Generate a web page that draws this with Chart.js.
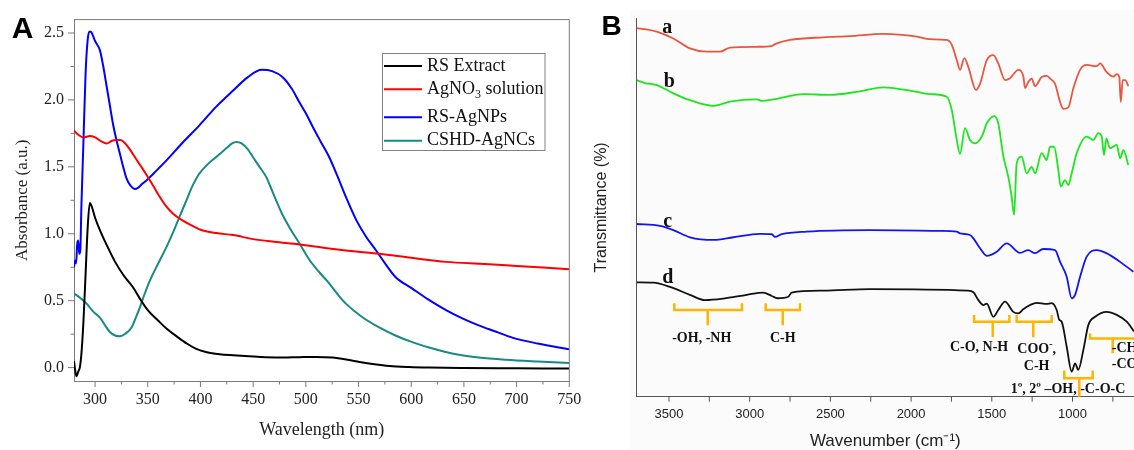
<!DOCTYPE html>
<html><head><meta charset="utf-8">
<script src="https://cdn.jsdelivr.net/npm/chart.js@4.4.1/dist/chart.umd.min.js"></script>
<style>
html,body{margin:0;padding:0;background:#fff;overflow:hidden;}
#wrap{position:relative;width:1134px;height:450px;}
#ca{position:absolute;left:0;top:0;}
#cb{position:absolute;left:590px;top:0;}
</style></head><body>
<div id="wrap"><canvas id="ca" width="590" height="450"></canvas><canvas id="cb" width="544" height="450"></canvas></div>
<script>
// ---------- Panel A : UV-Vis ----------
const rsWl = [280, 281.5, 282.5, 284, 285.5, 287, 289, 291, 293, 295, 297, 300, 305, 312, 319, 327, 336, 343, 350, 360, 368, 378, 387, 396, 406, 418, 431, 446, 462, 478, 494, 510, 525, 540, 551, 565, 579, 598, 617, 650, 700, 750];
const rsAbs = [0.05, -0.04, -0.065, -0.03, 0.0, 0.1, 0.35, 0.7, 1.05, 1.23, 1.2, 1.12, 1.02, 0.9, 0.79, 0.69, 0.6, 0.51, 0.43, 0.35, 0.29, 0.23, 0.18, 0.14, 0.115, 0.1, 0.092, 0.085, 0.078, 0.075, 0.078, 0.08, 0.075, 0.058, 0.042, 0.025, 0.012, 0.004, 0.0, -0.003, -0.005, -0.007];

const agWl = [280, 284, 289, 295, 300, 306, 311, 316, 320, 324, 328, 333, 338, 343, 348, 355, 361, 367, 374, 383, 392, 400, 415, 431, 450, 470, 494, 532, 570, 600, 633, 670, 700, 750];
const agAbs = [1.77, 1.74, 1.72, 1.73, 1.72, 1.69, 1.675, 1.695, 1.70, 1.70, 1.68, 1.63, 1.57, 1.51, 1.45, 1.36, 1.28, 1.21, 1.15, 1.10, 1.06, 1.03, 1.005, 0.99, 0.96, 0.94, 0.92, 0.88, 0.85, 0.82, 0.79, 0.775, 0.76, 0.735];

const npWl = [280, 281, 282, 283, 284, 285, 286, 287, 289, 291, 293, 294.5, 296, 297.5, 300, 304.6, 308, 311, 314, 317, 320, 323.5, 327, 330, 334, 337.5, 341, 345, 349, 358, 368, 383, 399, 415, 431, 445, 458, 468, 478, 487, 494, 500, 506.5, 514, 522, 530, 538, 548, 557, 566.5, 575, 585, 601, 616, 633, 648, 664, 680, 696, 720, 750];
const npAbs = [0.75, 0.80, 0.78, 0.92, 0.95, 0.85, 0.88, 1.2, 1.7, 2.2, 2.45, 2.51, 2.51, 2.49, 2.44, 2.37, 2.24, 2.10, 1.96, 1.82, 1.71, 1.60, 1.49, 1.41, 1.355, 1.335, 1.345, 1.375, 1.40, 1.47, 1.55, 1.68, 1.81, 1.95, 2.07, 2.17, 2.225, 2.215, 2.17, 2.08, 1.98, 1.90, 1.80, 1.69, 1.575, 1.43, 1.275, 1.10, 0.98, 0.877, 0.78, 0.677, 0.59, 0.51, 0.43, 0.37, 0.316, 0.27, 0.224, 0.18, 0.137];

const csWl = [280, 286, 292, 298, 304.6, 310, 314, 319, 323.5, 329, 334.6, 338.5, 342.5, 347, 352, 360, 367.7, 374, 380, 386.7, 392, 399, 407, 415, 424, 430, 434, 439, 445, 449.7, 456, 462.4, 467, 471.8, 478, 485, 494, 503, 512, 522.3, 530, 538, 553, 569.6, 585, 601, 617, 632.7, 648, 664, 690, 720, 750];
const csAbs = [0.555, 0.52, 0.478, 0.42, 0.374, 0.31, 0.266, 0.24, 0.234, 0.255, 0.30, 0.37, 0.45, 0.55, 0.65, 0.78, 0.90, 1.01, 1.125, 1.25, 1.35, 1.45, 1.52, 1.574, 1.635, 1.675, 1.686, 1.675, 1.63, 1.574, 1.50, 1.425, 1.34, 1.25, 1.14, 1.04, 0.927, 0.81, 0.72, 0.628, 0.55, 0.478, 0.38, 0.30, 0.24, 0.19, 0.15, 0.117, 0.093, 0.075, 0.058, 0.045, 0.034];

const aXTicks = [300, 350, 400, 450, 500, 550, 600, 650, 700, 750];
const aXMinor = [325, 375, 425, 475, 525, 575, 625, 675, 725];
const aYTicks = [0, 0.5, 1.0, 1.5, 2.0, 2.5];
const aYMinor = [0.25, 0.75, 1.25, 1.75, 2.25];

// ---------- Panel B : FTIR (offset transmittance, arbitrary units) ----------
const aWn = [3700, 3640, 3576, 3473, 3370, 3266, 3184, 3122, 2956, 2863, 2843, 2750, 2544, 2378, 2172, 1965, 1883, 1779, 1748, 1717, 1697, 1670, 1645, 1598, 1573, 1531, 1490, 1460, 1418, 1387, 1336, 1305, 1294, 1274, 1253, 1232, 1191, 1160, 1139, 1108, 1077, 1057, 1026, 995, 953, 912, 850, 829, 790, 747, 726, 710, 701, 689, 674, 654];
const aT = [97.3, 97.0, 96.4, 94.6, 92.0, 91.1, 91.1, 92.2, 92.4, 92.6, 93.1, 94.2, 94.9, 95.2, 95.8, 95.1, 94.4, 94.2, 92.9, 88.9, 86.3, 89.4, 87.0, 81.0, 82.6, 88.9, 90.2, 88.0, 83.6, 84.1, 86.3, 84.7, 81.5, 83.1, 84.0, 82.0, 84.4, 84.7, 84.0, 82.6, 77.8, 76.0, 76.4, 81.4, 86.3, 87.6, 87.3, 88.0, 85.8, 84.5, 85.2, 84.4, 77.8, 83.6, 83.6, 82.0];

const bWn = [3700, 3650, 3576, 3473, 3370, 3225, 3122, 2956, 2925, 2854, 2668, 2502, 2337, 2172, 1965, 1883, 1779, 1748, 1717, 1697, 1666, 1635, 1604, 1562, 1531, 1484, 1460, 1428, 1398, 1377, 1362, 1346, 1315, 1284, 1253, 1232, 1191, 1160, 1139, 1114, 1088, 1073, 1046, 1026, 1005, 974, 912, 871, 840, 819, 805, 790, 768, 726, 705, 685, 654];
const bT = [83.6, 82.8, 82.3, 80.1, 78.3, 76.8, 77.9, 78.5, 78.1, 78.5, 79.9, 79.7, 80.5, 81.7, 80.5, 79.9, 79.2, 75.7, 67.8, 64.1, 70.9, 67.8, 66.9, 68.7, 72.2, 74.1, 72.2, 63.4, 58.1, 52.8, 48.0, 61.6, 63.4, 59.0, 60.7, 59.0, 64.3, 62.5, 66.0, 66.0, 59.9, 55.5, 57.2, 55.9, 59.0, 64.3, 68.7, 67.8, 69.6, 68.7, 63.8, 68.2, 65.6, 66.5, 63.0, 65.1, 61.2];

const cWn = [3700, 3556, 3473, 3370, 3225, 3101, 2936, 2863, 2843, 2802, 2647, 2254, 1821, 1717, 1697, 1635, 1614, 1573, 1531, 1469, 1408, 1325, 1274, 1232, 1181, 1108, 1077, 1036, 1005, 984, 953, 912, 850, 790, 705, 623];
const cT = [45.6, 45.1, 44.0, 42.1, 41.4, 42.1, 43.0, 42.9, 42.2, 42.9, 43.6, 44.0, 43.8, 43.6, 43.1, 42.7, 41.8, 39.2, 37.2, 38.3, 40.5, 38.0, 38.7, 37.9, 39.0, 38.7, 35.6, 31.7, 26.0, 26.9, 31.7, 37.0, 38.7, 37.9, 35.6, 33.0];

const dWn = [3700, 3597, 3494, 3370, 3277, 3163, 3018, 2916, 2863, 2829, 2761, 2740, 2544, 2254, 1650, 1614, 1583, 1552, 1531, 1490, 1460, 1418, 1367, 1336, 1305, 1263, 1222, 1160, 1129, 1098, 1082, 1067, 1036, 1005, 984, 964, 933, 902, 860, 788, 726, 664, 619];
const dT = [30.2, 30.1, 29.0, 26.9, 25.5, 25.9, 26.9, 27.5, 26.6, 26.0, 26.4, 27.5, 28.0, 28.4, 28.0, 27.6, 25.5, 24.2, 24.6, 21.1, 22.9, 25.1, 22.4, 22.0, 23.1, 24.2, 24.8, 24.5, 24.7, 22.9, 20.3, 19.8, 13.2, 6.6, 8.8, 7.1, 12.3, 18.9, 21.1, 22.4, 21.6, 19.8, 17.2];

const bXTicks = [3500, 3250, 3000, 2750, 2500, 2250, 2000, 1750, 1500, 1250, 1000, 750];
const bXLabels = [3500, 3000, 2500, 2000, 1500, 1000];

// ---------- helpers ----------
const SERIF = "'Liberation Serif','Times New Roman',serif";
const SANS = "'Liberation Sans',Arial,sans-serif";
function pts(xs, ys){ return xs.map((x,i)=>({x:x, y:ys[i]})).sort((p,q)=>p.x-q.x); }

// ---------- Panel A plugins ----------
const decoA = {
  id:'decoA',
  afterDraw(chart){
    const {ctx, chartArea:ca, scales:{x,y}} = chart;
    ctx.save();
    ctx.strokeStyle='#7a7a7a'; ctx.lineWidth=1;
    ctx.beginPath();
    ctx.moveTo(ca.left, ca.top); ctx.lineTo(ca.right, ca.top);
    ctx.moveTo(ca.right, ca.top); ctx.lineTo(ca.right, ca.bottom);
    aXTicks.forEach(v=>{const p=x.getPixelForValue(v); ctx.moveTo(p,ca.bottom); ctx.lineTo(p,ca.bottom+6);});
    aXMinor.forEach(v=>{const p=x.getPixelForValue(v); ctx.moveTo(p,ca.bottom); ctx.lineTo(p,ca.bottom+3.5);});
    aYTicks.forEach(v=>{const p=y.getPixelForValue(v); ctx.moveTo(ca.left,p); ctx.lineTo(ca.left-6,p);});
    aYMinor.forEach(v=>{const p=y.getPixelForValue(v); ctx.moveTo(ca.left,p); ctx.lineTo(ca.left-3.5,p);});
    ctx.stroke();
    // legend
    const bx=382.5, by=53.5, bw=162.5, bh=97;
    ctx.fillStyle='#fff'; ctx.fillRect(bx,by,bw,bh);
    ctx.strokeStyle='#808080'; ctx.lineWidth=1; ctx.strokeRect(bx,by,bw,bh);
    const rows=[66,89.3,117.3,140.7];
    chart.data.datasets.forEach((ds,i)=>{
      const yy=rows[i];
      ctx.strokeStyle=ds.borderColor; ctx.lineWidth=2;
      ctx.beginPath(); ctx.moveTo(384,yy); ctx.lineTo(422,yy); ctx.stroke();
      ctx.fillStyle='#111'; ctx.textBaseline='middle'; ctx.textAlign='left';
      let xx=427;
      const parts = ds.label.split('₃');
      parts.forEach((p,k)=>{
        ctx.font = '18px '+SERIF;
        ctx.fillText(p, xx, yy); xx += ctx.measureText(p).width;
        if (k < parts.length-1){
          ctx.font = '12px '+SERIF;
          ctx.fillText('3', xx, yy+6); xx += ctx.measureText('3').width;
        }
      });
    });
    // panel label
    ctx.fillStyle='#000'; ctx.font='bold 30px '+SANS; ctx.textAlign='center'; ctx.textBaseline='alphabetic';
    ctx.fillText('A', 22.5, 37.5);
    ctx.restore();
  }
};

new Chart(document.getElementById('ca'), {
  type:'line',
  data:{datasets:[
    {label:'RS Extract', data:pts(rsWl, rsAbs), borderColor:'#000000'},
    {label:'AgNO₃ solution', data:pts(agWl, agAbs), borderColor:'#ff0000'},
    {label:'RS-AgNPs', data:pts(npWl, npAbs), borderColor:'#0000ff'},
    {label:'CSHD-AgNCs', data:pts(csWl, csAbs), borderColor:'#178a85'}
  ]},
  options:{
    responsive:false, animation:false, devicePixelRatio:1,
    layout:{padding:{top:19.5,right:19,left:0,bottom:0}},
    elements:{point:{radius:0}, line:{borderWidth:2, cubicInterpolationMode:'monotone'}},
    plugins:{legend:{display:false}, tooltip:{enabled:false}},
    scales:{
      x:{type:'linear', min:280, max:750,
        afterBuildTicks:s=>{s.ticks = aXTicks.map(v=>({value:v}));},
        grid:{display:false, drawTicks:false, tickLength:0}, border:{display:true,color:'#7a7a7a',width:1},
        ticks:{autoSkip:false, maxRotation:0, padding:8.7, color:'#222', font:{family:SERIF,size:16}},
        title:{display:true, text:'Wavelength (nm)', color:'#222', font:{family:SERIF,size:18}, padding:{top:0,bottom:9.2}},
        afterFit:s=>{s.height=69;}
      },
      y:{type:'linear', min:-0.1, max:2.6,
        afterBuildTicks:s=>{s.ticks = aYTicks.map(v=>({value:v}));},
        grid:{display:false, drawTicks:false, tickLength:0}, border:{display:true,color:'#7a7a7a',width:1},
        ticks:{padding:10, color:'#222', font:{family:SERIF,size:16}, callback:v=>Number(v).toFixed(1)},
        title:{display:true, text:'Absorbance (a.u.)', color:'#222', font:{family:SERIF,size:17}, padding:{top:12.5,bottom:0}},
        afterFit:s=>{s.width=74;}
      }
    }
  },
  plugins:[decoA]
});

// ---------- Panel B plugins ----------
const brackets = [
  {x1:3467,x2:3048,xm:3260,yt:24.7,yh:22.9,ys:18.9},
  {x1:2901,x2:2688,xm:2795,yt:24.7,yh:22.9,ys:18.9},
  {x1:1610,x2:1391,xm:1494,yt:21.6,yh:19.8,ys:15.7},
  {x1:1346,x2:1129,xm:1243,yt:21.6,yh:19.8,ys:15.7},
  {x1:1051,x2:875,xm:958,yt:6.9,yh:4.9,ys:0},
  {x1:891,x2:400,xm:751,yt:16.7,yh:15.4,ys:11.5}
];
const notes = [
  {t:'-OH, -NH', x:3297, y:15.5, a:'center'},
  {t:'C-H', x:2795, y:15.5, a:'center'},
  {t:'C-O, N-H', x:1579, y:13.0, a:'center'},
  {t:'COO', sup:'-', after:',', x:1222, y:12.5, a:'center'},
  {t:'C-H', x:1222, y:7.9, a:'center'},
  {t:'1º, 2º –OH, -C-O-C', x:1028, y:2.0, a:'center'},
  {t:'-CH', x:757, y:12.8, a:'left'},
  {t:'-CO', x:757, y:8.4, a:'left'}
];
const curveTags = [
  {t:'a', x:3510, y:96.0}, {t:'b', x:3498, y:81.7}, {t:'c', x:3508, y:44.9}, {t:'d', x:3508, y:29.9}
];
const decoB = {
  id:'decoB',
  beforeDraw(chart){
    const ctx=chart.ctx; ctx.save(); ctx.fillStyle='#fbfbfb'; ctx.fillRect(40,10,504,440); ctx.restore();
  },
  afterDraw(chart){
    const {ctx, chartArea:ca, scales:{x,y}} = chart;
    ctx.save();
    ctx.strokeStyle='#555'; ctx.lineWidth=1; ctx.beginPath();
    bXTicks.forEach(v=>{const p=x.getPixelForValue(v); ctx.moveTo(p,ca.bottom); ctx.lineTo(p,ca.bottom+5);});
    ctx.stroke();
    // brackets
    ctx.strokeStyle='#ffb400'; ctx.lineWidth=2.5; ctx.lineJoin='miter';
    brackets.forEach(b=>{
      const x1=x.getPixelForValue(b.x1), x2=x.getPixelForValue(b.x2), xm=x.getPixelForValue(b.xm);
      const yt=y.getPixelForValue(b.yt), yh=y.getPixelForValue(b.yh), ys=y.getPixelForValue(b.ys);
      ctx.beginPath();
      ctx.moveTo(x1,yt); ctx.lineTo(x1,yh); ctx.lineTo(x2,yh); ctx.lineTo(x2,yt);
      ctx.moveTo(xm,yh); ctx.lineTo(xm,ys);
      ctx.stroke();
    });
    // labels
    ctx.fillStyle='#111'; ctx.textBaseline='middle';
    notes.forEach(n=>{
      const px=x.getPixelForValue(n.x), py=y.getPixelForValue(n.y);
      ctx.font='bold 14px '+SERIF;
      if (n.sup){
        const w1=ctx.measureText(n.t).width, w3=ctx.measureText(n.after).width;
        ctx.font='bold 10px '+SERIF; const w2=ctx.measureText(n.sup).width;
        let sx = px-(w1+w2+w3)/2;
        ctx.textAlign='left';
        ctx.font='bold 14px '+SERIF; ctx.fillText(n.t,sx,py); sx+=w1;
        ctx.font='bold 10px '+SERIF; ctx.fillText(n.sup,sx,py-5); sx+=w2;
        ctx.font='bold 14px '+SERIF; ctx.fillText(n.after,sx,py);
      } else {
        ctx.textAlign=n.a; ctx.fillText(n.t,px,py);
      }
    });
    ctx.font='bold 20px '+SERIF; ctx.textAlign='center'; ctx.textBaseline='alphabetic';
    curveTags.forEach(c=>{ ctx.fillText(c.t, x.getPixelForValue(c.x), y.getPixelForValue(c.y)); });
    ctx.fillStyle='#000'; ctx.font='bold 28px '+SANS;
    ctx.fillText('B', 21.7, 35);
    ctx.restore();
  }
};

new Chart(document.getElementById('cb'), {
  type:'line',
  data:{datasets:[
    {label:'a', data:pts(aWn,aT), borderColor:'#e8563f'},
    {label:'b', data:pts(bWn,bT), borderColor:'#1ee61e'},
    {label:'c', data:pts(cWn,cT), borderColor:'#1414f0'},
    {label:'d', data:pts(dWn,dT), borderColor:'#111111'}
  ]},
  options:{
    responsive:false, animation:false, devicePixelRatio:1,
    layout:{padding:{top:18,right:0,left:0,bottom:0}},
    elements:{point:{radius:0}, line:{borderWidth:1.8, cubicInterpolationMode:'monotone'}},
    plugins:{legend:{display:false}, tooltip:{enabled:false}},
    scales:{
      x:{type:'linear', reverse:true, min:619, max:3700,
        afterBuildTicks:s=>{s.ticks = bXTicks.map(v=>({value:v}));},
        grid:{display:false, drawTicks:false, tickLength:0}, border:{display:true,color:'#555',width:1},
        ticks:{autoSkip:false, maxRotation:0, padding:9.5, color:'#222', font:{family:SANS,size:13},
          callback:v=> bXLabels.includes(v) ? String(v) : ''},
        title:{display:true, text:'Wavenumber (cm⁻¹)', color:'#222', font:{family:SANS,size:17,lineHeight:1}, padding:{top:0,bottom:0}},
        afterFit:s=>{s.height=53.3;}
      },
      y:{type:'linear', min:0, max:100,
        grid:{display:false, drawTicks:false, tickLength:0}, border:{display:true,color:'#555',width:1},
        ticks:{display:false},
        title:{display:true, text:'Transmittance (%)', color:'#222', font:{family:SANS,size:16}, padding:{top:2.4,bottom:0}},
        afterFit:s=>{s.width=46.7;}
      }
    }
  },
  plugins:[decoB]
});
</script></body></html>
